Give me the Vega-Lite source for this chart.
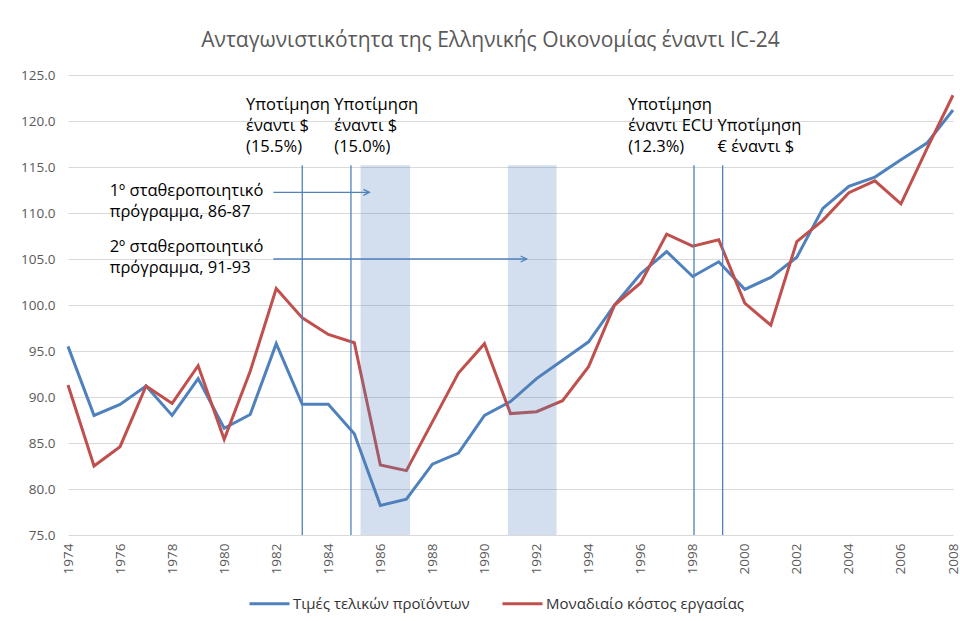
{
  "$schema": "https://vega.github.io/schema/vega-lite/v6.json",
  "width": 885,
  "height": 460,
  "autosize": {"type": "none"},
  "padding": {"left": 68, "top": 75, "right": 7, "bottom": 86},
  "background": "white",
  "title": {
    "text": "Ανταγωνιστικότητα της Ελληνικής Οικονομίας έναντι IC-24",
    "font": "Open Sans",
    "fontSize": 21,
    "fontWeight": "normal",
    "color": "#595959",
    "anchor": "middle",
    "dx": -20,
    "offset": 17
  },
  "config": {
    "view": {"stroke": null},
    "axis": {"labelFont": "Open Sans", "labelFontSize": 13.5, "labelColor": "#595959", "ticks": false, "domain": false, "title": null},
    "legend": {"labelFont": "Open Sans", "labelFontSize": 15, "labelColor": "#333333", "labelLimit": 400}
  },
  "datasets": {
    "series": [
      {"year": 1974, "Τιμές τελικών προϊόντων": 95.5, "Μοναδιαίο κόστος εργασίας": 91.3},
      {"year": 1975, "Τιμές τελικών προϊόντων": 88.0, "Μοναδιαίο κόστος εργασίας": 82.5},
      {"year": 1976, "Τιμές τελικών προϊόντων": 89.2, "Μοναδιαίο κόστος εργασίας": 84.6},
      {"year": 1977, "Τιμές τελικών προϊόντων": 91.2, "Μοναδιαίο κόστος εργασίας": 91.2},
      {"year": 1978, "Τιμές τελικών προϊόντων": 88.0, "Μοναδιαίο κόστος εργασίας": 89.3},
      {"year": 1979, "Τιμές τελικών προϊόντων": 92.0, "Μοναδιαίο κόστος εργασίας": 93.4},
      {"year": 1980, "Τιμές τελικών προϊόντων": 86.6, "Μοναδιαίο κόστος εργασίας": 85.4},
      {"year": 1981, "Τιμές τελικών προϊόντων": 88.1, "Μοναδιαίο κόστος εργασίας": 92.8},
      {"year": 1982, "Τιμές τελικών προϊόντων": 95.8, "Μοναδιαίο κόστος εργασίας": 101.8},
      {"year": 1983, "Τιμές τελικών προϊόντων": 89.2, "Μοναδιαίο κόστος εργασίας": 98.6},
      {"year": 1984, "Τιμές τελικών προϊόντων": 89.2, "Μοναδιαίο κόστος εργασίας": 96.8},
      {"year": 1985, "Τιμές τελικών προϊόντων": 86.0, "Μοναδιαίο κόστος εργασίας": 95.9},
      {"year": 1986, "Τιμές τελικών προϊόντων": 78.2, "Μοναδιαίο κόστος εργασίας": 82.6},
      {"year": 1987, "Τιμές τελικών προϊόντων": 78.9, "Μοναδιαίο κόστος εργασίας": 82.0},
      {"year": 1988, "Τιμές τελικών προϊόντων": 82.7, "Μοναδιαίο κόστος εργασίας": 87.3},
      {"year": 1989, "Τιμές τελικών προϊόντων": 83.9, "Μοναδιαίο κόστος εργασίας": 92.6},
      {"year": 1990, "Τιμές τελικών προϊόντων": 88.0, "Μοναδιαίο κόστος εργασίας": 95.8},
      {"year": 1991, "Τιμές τελικών προϊόντων": 89.5, "Μοναδιαίο κόστος εργασίας": 88.2},
      {"year": 1992, "Τιμές τελικών προϊόντων": 92.0, "Μοναδιαίο κόστος εργασίας": 88.4},
      {"year": 1993, "Τιμές τελικών προϊόντων": 94.0, "Μοναδιαίο κόστος εργασίας": 89.6},
      {"year": 1994, "Τιμές τελικών προϊόντων": 96.0, "Μοναδιαίο κόστος εργασίας": 93.3},
      {"year": 1995, "Τιμές τελικών προϊόντων": 100.0, "Μοναδιαίο κόστος εργασίας": 100.0},
      {"year": 1996, "Τιμές τελικών προϊόντων": 103.4, "Μοναδιαίο κόστος εργασίας": 102.4},
      {"year": 1997, "Τιμές τελικών προϊόντων": 105.8, "Μοναδιαίο κόστος εργασίας": 107.7},
      {"year": 1998, "Τιμές τελικών προϊόντων": 103.1, "Μοναδιαίο κόστος εργασίας": 106.4},
      {"year": 1999, "Τιμές τελικών προϊόντων": 104.7, "Μοναδιαίο κόστος εργασίας": 107.1},
      {"year": 2000, "Τιμές τελικών προϊόντων": 101.7, "Μοναδιαίο κόστος εργασίας": 100.2},
      {"year": 2001, "Τιμές τελικών προϊόντων": 103.0, "Μοναδιαίο κόστος εργασίας": 97.8},
      {"year": 2002, "Τιμές τελικών προϊόντων": 105.2, "Μοναδιαίο κόστος εργασίας": 106.9},
      {"year": 2003, "Τιμές τελικών προϊόντων": 110.5, "Μοναδιαίο κόστος εργασίας": 109.2},
      {"year": 2004, "Τιμές τελικών προϊόντων": 112.9, "Μοναδιαίο κόστος εργασίας": 112.2},
      {"year": 2005, "Τιμές τελικών προϊόντων": 113.9, "Μοναδιαίο κόστος εργασίας": 113.5},
      {"year": 2006, "Τιμές τελικών προϊόντων": 115.8, "Μοναδιαίο κόστος εργασίας": 111.0},
      {"year": 2007, "Τιμές τελικών προϊόντων": 117.6, "Μοναδιαίο κόστος εργασίας": 117.0},
      {"year": 2008, "Τιμές τελικών προϊόντων": 121.2, "Μοναδιαίο κόστος εργασίας": 122.8}
    ],
    "bands": [
      {"start": 1985.24, "end": 1987.14, "top": 115.2},
      {"start": 1990.9, "end": 1992.77, "top": 115.2}
    ],
    "vlines": [
      {"year": 1983.0, "top": 115.2},
      {"year": 1984.87, "top": 115.2},
      {"year": 1998.05, "top": 115.2},
      {"year": 1999.15, "top": 115.2}
    ],
    "arrows": [
      {"from": 1981.89, "to": 1985.58, "level": 112.25},
      {"from": 1981.89, "to": 1991.62, "level": 105.0}
    ],
    "notes": [
      {"x": 1980.84, "y": 122.6, "label": "Υποτίμηση\nέναντι $\n(15.5%)"},
      {"x": 1984.23, "y": 122.6, "label": "Υποτίμηση\nέναντι $\n(15.0%)"},
      {"x": 1995.52, "y": 122.6, "label": "Υποτίμηση\nέναντι ECU\n(12.3%)"},
      {"x": 1998.95, "y": 120.3, "label": "Υποτίμηση\n€ έναντι $"},
      {"x": 1975.6, "y": 113.3, "label": "1º σταθεροποιητικό\nπρόγραμμα, 86-87"},
      {"x": 1975.6, "y": 107.2, "label": "2º σταθεροποιητικό\nπρόγραμμα, 91-93"}
    ]
  },
  "layer": [
    {
      "data": {"name": "series"},
      "transform": [{"fold": ["Τιμές τελικών προϊόντων", "Μοναδιαίο κόστος εργασίας"], "as": ["series", "value"]}],
      "mark": {"type": "line", "strokeWidth": 3},
      "encoding": {
        "x": {
          "field": "year", "type": "quantitative",
          "scale": {"domain": [1974, 2008], "nice": false, "zero": false},
          "axis": {"values": [1974,1976,1978,1980,1982,1984,1986,1988,1990,1992,1994,1996,1998,2000,2002,2004,2006,2008], "format": "d", "labelAngle": -90, "grid": false, "labelPadding": 8}
        },
        "y": {
          "field": "value", "type": "quantitative",
          "scale": {"domain": [75, 125], "nice": false, "zero": false},
          "axis": {"values": [75,80,85,90,95,100,105,110,115,120,125], "format": ".1f", "gridColor": "#d9d9d9", "gridWidth": 1, "labelPadding": 13}
        },
        "color": {
          "field": "series", "type": "nominal",
          "scale": {"domain": ["Τιμές τελικών προϊόντων", "Μοναδιαίο κόστος εργασίας"], "range": ["#4F81BD", "#C0504D"]},
          "legend": {
            "title": null, "orient": "none", "direction": "horizontal",
            "legendX": 180, "legendY": 507,
            "symbolType": "stroke", "symbolStrokeWidth": 3, "symbolSize": 1600,
            "columnPadding": 26, "labelOffset": 2
          }
        }
      }
    },
    {
      "data": {"name": "bands"},
      "mark": {"type": "rect", "color": "#4F81BD", "opacity": 0.25},
      "encoding": {
        "x": {"field": "start", "type": "quantitative"},
        "x2": {"field": "end"},
        "y": {"field": "top", "type": "quantitative"},
        "y2": {"datum": 75}
      }
    },
    {
      "data": {"name": "vlines"},
      "mark": {"type": "rule", "color": "#4F81BD", "strokeWidth": 1.3},
      "encoding": {
        "x": {"field": "year", "type": "quantitative"},
        "y": {"field": "top", "type": "quantitative"},
        "y2": {"datum": 75}
      }
    },
    {
      "data": {"name": "arrows"},
      "mark": {"type": "rule", "color": "#4F81BD", "strokeWidth": 1.3},
      "encoding": {
        "x": {"field": "from", "type": "quantitative"},
        "x2": {"field": "to"},
        "y": {"field": "level", "type": "quantitative"}
      }
    },
    {
      "data": {"name": "arrows"},
      "mark": {"type": "point", "shape": "M-1,-0.5L0,0L-1,0.5", "filled": false, "stroke": "#4F81BD", "strokeWidth": 1.3, "size": 144, "opacity": 1},
      "encoding": {
        "x": {"field": "to", "type": "quantitative"},
        "y": {"field": "level", "type": "quantitative"}
      }
    },
    {
      "data": {"name": "notes"},
      "mark": {"type": "text", "align": "left", "baseline": "top", "lineBreak": "\n", "lineHeight": 21, "font": "Open Sans", "fontSize": 16.5, "color": "#000000"},
      "encoding": {
        "x": {"field": "x", "type": "quantitative"},
        "y": {"field": "y", "type": "quantitative"},
        "text": {"field": "label", "type": "nominal"}
      }
    }
  ]
}
